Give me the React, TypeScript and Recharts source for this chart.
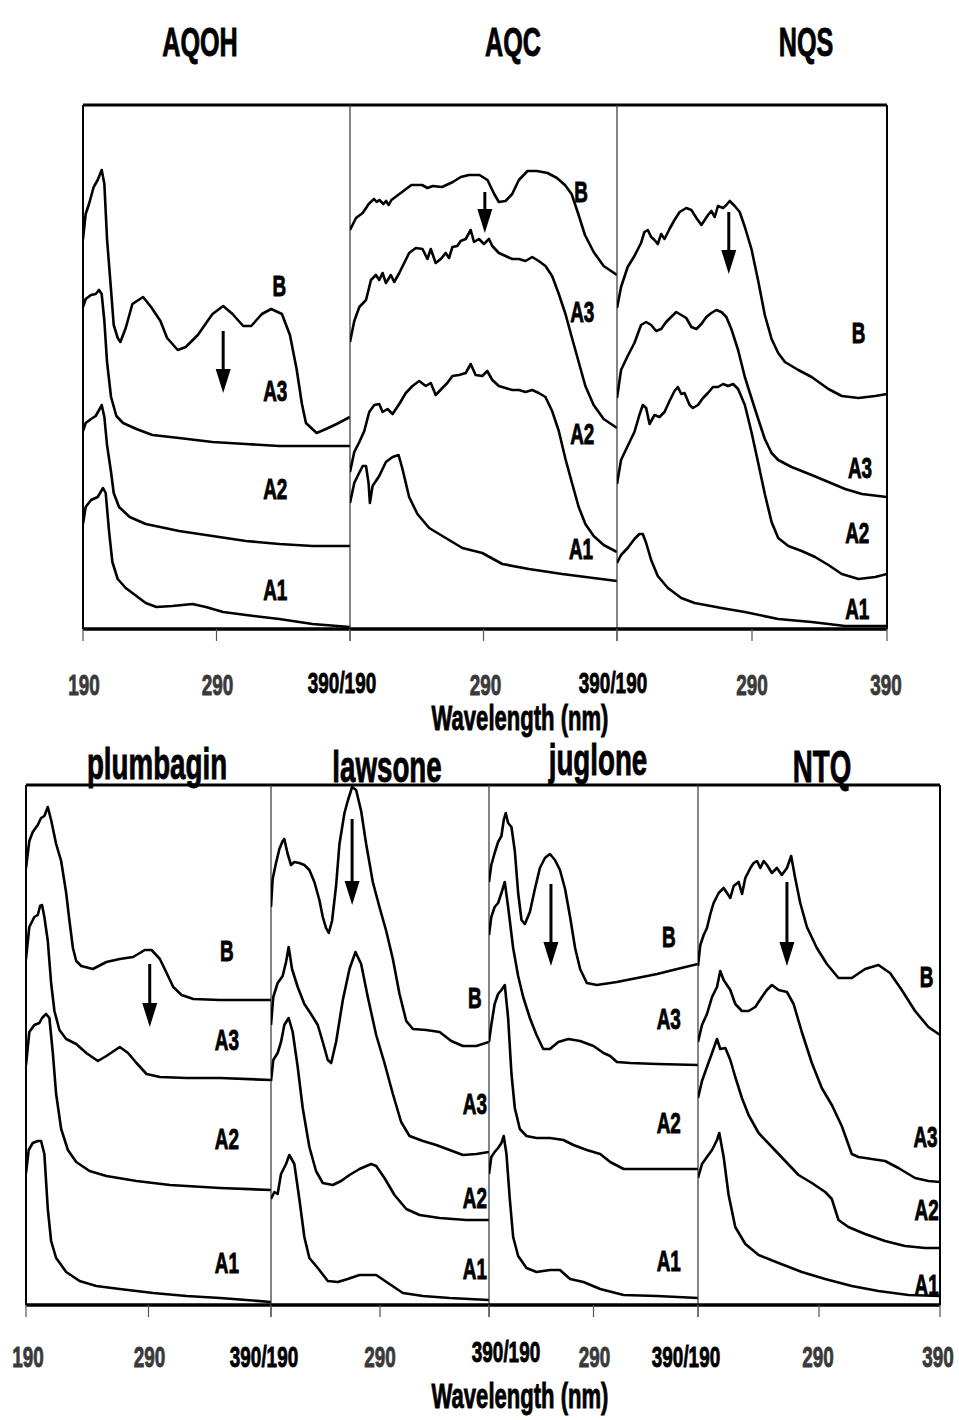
import React from 'react';
import { LineChart, Line, XAxis, YAxis, ReferenceLine, ReferenceDot } from 'recharts';

type Pt = [number, number];
type Tag = [string, number, number];
type TickText = { text: string; dx: number; dy: number; color: string };

const FONT = "'Liberation Sans', Arial, Helvetica, sans-serif";
const SQUEEZE = 0.63;

// every panel runs 190–390 nm
const WL_TICKS = [190, 290, 390];

// --- AQOH (offset absorbance, panel units) ---
const aqohB: Pt[] = [[190, 390], [192, 415], [194.5, 425], [198, 442], [201, 449], [204, 459], [206, 445], [208, 390], [211, 339], [213, 304], [216, 291], [218, 287], [222, 301], [227, 325], [235, 332], [241, 322], [248, 308], [253, 291], [261, 279], [267, 282], [276, 294], [287, 315], [295, 323], [302, 315], [310, 303], [316, 303], [324, 315], [331, 320], [339, 315], [345, 294], [350, 260], [354, 225], [357, 206], [365, 196], [372, 200], [380, 205], [390, 212]];
const aqohA3: Pt[] = [[190, 322], [192, 330], [196, 334], [199.5, 335], [202, 339], [204, 335], [206, 308], [208, 267], [211, 232], [215, 213], [220, 206], [230, 200], [242, 194], [262, 191], [287, 187], [312, 185], [337, 183], [390, 183]];
const aqohA2: Pt[] = [[190, 198], [192, 206], [196, 210], [199.5, 213], [202.5, 220], [204, 224], [206, 212], [208, 184], [211, 157], [213, 136], [217, 122], [225, 112], [237, 105], [262, 98], [287, 93], [312, 88], [337, 85], [362, 83], [390, 83]];
const aqohA1: Pt[] = [[190, 105], [192, 122], [196, 129], [201, 132], [205, 141], [207, 136], [209.5, 98], [212, 67], [216, 50], [222, 41], [230, 33], [237, 26], [245, 22], [257, 23], [272, 25], [282, 22], [295, 17], [312, 14], [337, 10], [362, 5], [390, 2]];
const aqohTags: Tag[] = [['B', 337, 344], ['A3', 334, 239], ['A2', 334, 141], ['A1', 334, 40]];
const aqohArrow = [295, 298, 236];

// --- AQC ---
const aqcB: Pt[] = [[190, 399], [194.5, 411], [199.5, 416], [204, 425], [208, 430], [210, 427], [212, 429], [215, 425], [217, 428], [219, 424], [221, 429], [224, 432], [229, 437], [236, 444], [244, 444], [248, 441], [252, 443], [259, 442], [267, 447], [273, 452], [279, 454], [287, 454], [293, 449], [298, 435], [301.5, 427], [306.5, 428], [311.5, 435], [316.5, 449], [323, 458], [330, 458], [338, 456], [345, 451], [351, 444], [356, 435], [361, 415], [366, 394], [372.5, 377], [380, 363], [390, 354]];
const aqcA3: Pt[] = [[190, 287], [193.2, 308], [197, 322], [202, 329], [205.7, 349], [209.4, 354], [211.9, 349], [214.4, 356], [216.9, 346], [220.6, 354], [223.1, 347], [226.9, 356], [230.6, 366], [234.3, 376], [239.3, 381], [244.3, 380], [248, 370], [250.5, 380], [254.2, 366], [258, 370], [261.7, 376], [264.2, 371], [266.7, 382], [270.4, 383], [272.9, 388], [276.7, 390], [280.4, 399], [282.9, 387], [286.6, 390], [290.3, 385], [294.1, 390], [296.6, 383], [301.5, 376], [306.5, 373], [311.5, 370], [316.5, 370], [321.5, 368], [326.5, 372], [331.4, 368], [336.4, 363], [341.4, 353], [346.4, 335], [351.4, 315], [356.3, 291], [361.3, 267], [366.3, 243], [372.5, 224], [380, 210], [390, 201]];
const aqcA2: Pt[] = [[190, 157], [193.2, 177], [197, 187], [200.7, 198], [204.4, 217], [208.2, 224], [211.9, 225], [214.4, 217], [218.1, 220], [221.9, 215], [226.9, 225], [231.8, 236], [236.8, 243], [241.8, 248], [246.8, 243], [250.5, 246], [254.2, 234], [259.2, 241], [262.9, 246], [266.7, 253], [271.7, 254], [276.7, 256], [280.4, 265], [284.1, 254], [289.1, 253], [292.8, 258], [296.6, 249], [301.5, 243], [306.5, 241], [311.5, 239], [316.5, 239], [321.5, 237], [326.5, 239], [331.4, 236], [336.4, 232], [341.4, 218], [346.4, 198], [351.4, 170], [356.3, 146], [361.3, 122], [366.3, 105], [372.5, 93], [380, 84], [390, 77]];
const aqcA1: Pt[] = [[190, 126], [193.2, 146], [195.7, 153], [199.5, 163], [202, 163], [203.9, 146], [204.9, 126], [206.9, 143], [211.9, 153], [216.9, 167], [221.9, 172], [226.4, 174], [229.3, 160], [234.3, 132], [240.5, 115], [249.3, 101], [261.7, 91], [274.2, 81], [289.1, 76], [304.1, 65], [324, 60], [348.9, 55], [390, 48]];
const aqcTags: Tag[] = [['B', 363, 438], ['A3', 364, 318], ['A2', 364, 196], ['A1', 363, 81]];
const aqcArrow = [291, 437, 396];

// --- NQS ---
const nqsB: Pt[] = [[190, 321], [193, 342], [197.9, 362], [202.9, 373], [207.8, 386], [210.3, 397], [212.8, 399], [215.3, 392], [217.8, 389], [220.2, 385], [222.7, 395], [225.2, 390], [228.9, 400], [232.6, 409], [236.4, 417], [241.3, 421], [245.1, 419], [248.8, 411], [252.5, 404], [255, 409], [257.4, 414], [259.9, 418], [262.4, 412], [264.8, 423], [268.6, 421], [271, 424], [273.5, 428], [277.2, 423], [280.9, 417], [284.7, 402], [289.6, 380], [294.6, 348], [299.5, 314], [304.5, 290], [309.4, 276], [314.4, 267], [324.3, 259], [334.2, 252], [346.6, 240], [356.5, 233], [368.9, 231], [381.3, 233], [390, 235]];
const nqsA3: Pt[] = [[190, 231], [193, 259], [197.9, 273], [202.9, 286], [207.8, 304], [211.6, 307], [215.3, 304], [219, 298], [222.7, 300], [226.4, 307], [230.1, 312], [233.9, 317], [237.6, 314], [241.3, 311], [245.1, 302], [248.8, 300], [252.5, 305], [256.2, 312], [259.9, 316], [263.6, 319], [267.3, 317], [271, 312], [274.7, 300], [279.7, 279], [284.7, 252], [289.6, 231], [294.6, 210], [299.5, 190], [304.5, 176], [309.4, 169], [319.3, 162], [334.2, 154], [346.6, 147], [359, 140], [371.4, 135], [390, 132]];
const nqsA2: Pt[] = [[190, 145], [193, 169], [197.9, 183], [202.9, 197], [206.6, 214], [209.1, 224], [211.6, 221], [214.1, 205], [217.8, 214], [221.5, 212], [225.2, 217], [228.9, 228], [232.6, 238], [235.1, 242], [237.6, 235], [240, 236], [243.8, 224], [246.2, 221], [250, 224], [253.7, 231], [257.4, 236], [261.1, 242], [264.8, 242], [268.6, 245], [272.3, 243], [276, 245], [279.7, 240], [284.7, 224], [289.6, 197], [294.6, 166], [299.5, 135], [304.5, 107], [309.4, 91], [316.9, 83], [326.8, 78], [336.7, 72], [346.6, 64], [356.5, 55], [368.9, 50], [381.3, 52], [390, 55]];
const nqsA1: Pt[] = [[190, 66], [193, 74], [197.9, 81], [202.9, 90], [206.6, 95], [209.1, 95], [211.6, 86], [215.3, 69], [220.2, 53], [227.7, 41], [237.6, 31], [247.5, 26], [267.3, 21], [284.7, 17], [309.4, 10], [334.2, 7], [359, 3], [390, 3]];
const nqsTags: Tag[] = [['B', 369, 297], ['A3', 370, 162], ['A2', 368, 97], ['A1', 368, 21]];
const nqsArrow = [272.8, 417, 355];

// --- plumbagin ---
const plumB: Pt[] = [[190, 437], [192.7, 464], [195.5, 473], [199.6, 480], [202.3, 487], [205, 489], [207.8, 498], [210.5, 485], [214.6, 461], [218.7, 444], [222.8, 412], [225.5, 384], [228.3, 357], [231, 344], [235.1, 339], [244.6, 336], [255.6, 343], [266.5, 346], [277.4, 348], [287, 355], [292.5, 355], [299.3, 346], [304.8, 332], [310.2, 318], [317, 310], [326.6, 306], [348.5, 305], [390, 305]];
const plumA3: Pt[] = [[190, 346], [192.7, 378], [196.8, 388], [199.6, 390], [201.5, 399], [203.1, 400], [205, 388], [207.8, 364], [210.5, 322], [213.2, 294], [217.3, 275], [222.8, 266], [231, 261], [239.2, 252], [248.7, 244], [255.6, 249], [266.5, 258], [273.3, 252], [280.2, 242], [288.4, 231], [299.3, 228], [321.1, 227], [348.5, 227], [390, 225]];
const plumA2: Pt[] = [[190, 240], [192.7, 273], [196.8, 280], [200.9, 282], [203.1, 287], [206.4, 291], [209.1, 287], [211.9, 252], [214.6, 211], [218.7, 176], [224.2, 155], [231, 143], [241.9, 134], [255.6, 129], [280.2, 124], [307.5, 120], [348.5, 117], [390, 115]];
const plumA1: Pt[] = [[190, 132], [192.2, 155], [195.5, 162], [199.6, 164], [202.3, 164], [205, 151], [207.8, 96], [210.5, 64], [214.6, 47], [222.8, 33], [233.7, 24], [247.4, 19], [266.5, 16], [293.8, 12], [321.1, 9], [348.5, 7], [390, 3]];
const plumTags: Tag[] = [['B', 354, 355], ['A3', 354, 266], ['A2', 354, 167], ['A1', 354, 43]];
const plumArrow = [291, 341, 278];

// --- lawsone ---
const lawB: Pt[] = [[190, 398], [191.5, 426], [194.6, 442], [197.7, 456], [200.7, 464], [202.2, 466], [205.3, 451], [208.4, 440], [211.4, 443], [216, 442], [220.6, 440], [225.2, 435], [229.8, 423], [234.4, 405], [237.5, 388], [240.5, 377], [243, 372], [246, 384], [249.7, 419], [252.8, 461], [257.4, 492], [260.4, 504], [264.4, 518], [268.1, 515], [272.7, 494], [277.3, 461], [283.4, 423], [289.5, 398], [295.7, 374], [301.8, 346], [307.9, 311], [314.1, 284], [320.2, 276], [332.4, 275], [344.7, 273], [355.4, 264], [366.1, 259], [378.4, 259], [390, 263]];
const lawA3: Pt[] = [[190, 280], [192.1, 308], [196.1, 322], [200.7, 329], [203.8, 343], [206.2, 358], [209.3, 336], [214.5, 318], [220.6, 301], [226.7, 291], [232.9, 280], [237.5, 263], [242.1, 245], [245.2, 242], [249.7, 263], [255.9, 305], [262, 336], [267.5, 353], [272.7, 341], [278.8, 308], [286.5, 270], [294.1, 242], [301.8, 211], [309.4, 183], [317.1, 169], [329.4, 164], [341.6, 160], [353.9, 155], [366.1, 150], [378.4, 151], [390, 153]];
const lawA2: Pt[] = [[190, 224], [192.1, 245], [196.1, 252], [199.2, 263], [202.2, 280], [206.2, 287], [209.9, 273], [214.5, 238], [219.1, 197], [225.2, 158], [231.3, 134], [237.5, 122], [246.7, 120], [254.3, 124], [262, 130], [271.2, 136], [281.9, 141], [286.5, 139], [294.1, 127], [303.3, 110], [314.1, 96], [326.3, 90], [344.7, 87], [369.2, 85], [390, 85]];
const lawA1: Pt[] = [[190, 106], [193.1, 113], [196.1, 111], [199.2, 131], [203.8, 141], [206.8, 150], [211.4, 141], [216, 106], [220.6, 68], [225.2, 47], [232.9, 37], [242.1, 24], [251.3, 23], [260.4, 26], [271.2, 30], [286.5, 30], [298.7, 21], [311, 12], [329.4, 9], [353.9, 7], [390, 5]];
const lawTags: Tag[] = [['B', 377, 308], ['A3', 377, 202], ['A2', 377, 108], ['A1', 377, 37]];
const lawArrow = [264.4, 486, 400];

// --- juglone ---
const jugB: Pt[] = [[190, 423], [192.2, 440], [195.4, 452], [198.7, 463], [201.9, 469], [204.1, 485], [206, 492], [208.3, 482], [211.5, 478], [214.7, 454], [217.9, 412], [221.1, 385], [224.3, 381], [229.1, 393], [233.9, 416], [238.7, 437], [243.5, 447], [248.3, 451], [253.1, 445], [257.9, 435], [262.8, 416], [267.6, 388], [272.4, 357], [277.2, 336], [283.6, 322], [293.2, 320], [312.4, 323], [331.7, 327], [350.9, 331], [370.1, 336], [390, 341]];
const jugA3: Pt[] = [[190, 370], [192.2, 388], [195.4, 398], [198.7, 402], [201.9, 412], [205.1, 423], [208.3, 398], [213.1, 357], [217.9, 329], [222.7, 308], [229.1, 287], [235.5, 270], [241.9, 256], [248.3, 256], [256.3, 263], [265.9, 266], [277.2, 264], [290, 259], [299.6, 252], [306, 249], [312.4, 243], [325.3, 242], [350.9, 241], [390, 240]];
const jugA2: Pt[] = [[190, 263], [192.2, 280], [195.4, 301], [198.7, 311], [201.9, 315], [205.1, 320], [208.3, 287], [211.5, 231], [214.7, 197], [219.5, 176], [225.9, 169], [235.5, 167], [248.3, 167], [261.2, 165], [270.8, 160], [283.6, 155], [296.4, 151], [306, 143], [318.8, 136], [344.5, 136], [390, 136]];
const jugA1: Pt[] = [[190, 131], [192.2, 148], [195.4, 153], [198.7, 157], [201.9, 162], [204.1, 169], [206.7, 151], [209.9, 106], [213.1, 68], [217.9, 49], [225.9, 37], [235.5, 33], [248.3, 35], [257.9, 35], [267.6, 26], [280.4, 23], [296.4, 16], [318.8, 10], [350.9, 9], [390, 7]];
const jugTags: Tag[] = [['B', 362, 369], ['A3', 362, 287], ['A2', 362, 183], ['A1', 362, 45]];
const jugArrow = [249.3, 421, 339];

// --- NTQ ---
const ntqB: Pt[] = [[190, 339], [191.9, 360], [194.7, 370], [197.4, 377], [200.2, 391], [202.9, 402], [207.1, 412], [211.2, 417], [214, 412], [216.7, 407], [219.5, 419], [223.6, 423], [226.4, 411], [229.1, 427], [233.3, 437], [236, 442], [238.8, 444], [241.5, 437], [244.3, 444], [247, 440], [251.1, 432], [255.2, 437], [259.3, 430], [263.5, 437], [267, 449], [270.3, 427], [274.5, 402], [280, 378], [288.2, 357], [296.5, 341], [306.1, 327], [317.1, 327], [328.1, 336], [339.1, 340], [348.7, 332], [358.4, 315], [369.4, 294], [380.4, 278], [390, 270]];
const ntqA3: Pt[] = [[190, 263], [193.3, 280], [197.4, 291], [201.6, 308], [205.7, 318], [208.4, 334], [211.2, 325], [216.7, 315], [220.8, 301], [226.3, 294], [231.8, 294], [237.3, 298], [242.8, 308], [246.9, 315], [251.1, 320], [256.6, 315], [263.5, 313], [269, 301], [275.8, 273], [284.1, 242], [292.3, 217], [300.6, 200], [308.8, 179], [317.1, 151], [322.6, 148], [333.6, 146], [344.6, 144], [355.6, 137], [369.4, 127], [380.4, 124], [390, 123]];
const ntqA2: Pt[] = [[190, 207], [193.3, 224], [197.4, 238], [201.6, 252], [205.7, 266], [208.4, 256], [212.6, 257], [216.7, 245], [220.8, 228], [226.3, 207], [231.8, 190], [240.1, 172], [251.1, 158], [262.1, 144], [273.1, 130], [284.1, 122], [295.1, 113], [300.6, 106], [306.1, 85], [314.3, 78], [328.1, 71], [344.6, 64], [361.1, 59], [377.6, 57], [390, 57]];
const ntqA1: Pt[] = [[190, 127], [193.3, 141], [197.4, 148], [201.6, 155], [205.7, 165], [207.6, 172], [211.2, 148], [215.3, 110], [220.8, 78], [229.1, 61], [240.1, 50], [256.6, 42], [275.8, 33], [295.1, 26], [317.1, 19], [339.1, 14], [363.9, 10], [390, 9]];
const ntqTags: Tag[] = [['B', 379, 329], ['A3', 378, 169], ['A2', 379, 96], ['A1', 379, 21]];
const ntqArrow = [263.5, 423, 339];

const TOP_TITLES = ['AQOH', 'AQC', 'NQS'];
const BOTTOM_TITLES = ['plumbagin', 'lawsone', 'juglone', 'NTQ'];
const AXIS_TITLE = 'Wavelength (nm)';

// layout of the two rows (page pixels)
const TOP_EDGES = [83, 350, 617, 887];
const BOTTOM_EDGES = [26, 271, 489, 698, 940];
const TOP_Y = [105, 629];
const BOTTOM_Y = [785, 1305];

const grey = '#3a3a3a';
const tt = (text: string, dx = 0, dy = 0, color = grey): TickText => ({ text, dx, dy, color });

interface PanelSpec {
  edges: [number, number];
  rows: [number, number];
  series: [string, Pt[]][];
  tags: Tag[];
  arrow: number[];
  ticks: Record<number, TickText>;
  labelDrop: number;
  first?: boolean;
  last?: boolean;
}

const PANELS: PanelSpec[] = [
  { edges: [TOP_EDGES[0], TOP_EDGES[1]], rows: [TOP_Y[0], TOP_Y[1]], series: [['B', aqohB], ['A3', aqohA3], ['A2', aqohA2], ['A1', aqohA1]], tags: aqohTags, arrow: aqohArrow, ticks: { 190: tt('190', 1), 290: tt('290', 1), 390: tt('390/190', -8, -2, '#000') }, labelDrop: 66, first: true },
  { edges: [TOP_EDGES[1], TOP_EDGES[2]], rows: [TOP_Y[0], TOP_Y[1]], series: [['B', aqcB], ['A3', aqcA3], ['A2', aqcA2], ['A1', aqcA1]], tags: aqcTags, arrow: aqcArrow, ticks: { 290: tt('290', 2), 390: tt('390/190', -4, -2, '#000') }, labelDrop: 66 },
  { edges: [TOP_EDGES[2], TOP_EDGES[3]], rows: [TOP_Y[0], TOP_Y[1]], series: [['B', nqsB], ['A3', nqsA3], ['A2', nqsA2], ['A1', nqsA1]], tags: nqsTags, arrow: nqsArrow, ticks: { 290: tt('290'), 390: tt('390', -1) }, labelDrop: 66, last: true },
  { edges: [BOTTOM_EDGES[0], BOTTOM_EDGES[1]], rows: [BOTTOM_Y[0], BOTTOM_Y[1]], series: [['B', plumB], ['A3', plumA3], ['A2', plumA2], ['A1', plumA1]], tags: plumTags, arrow: plumArrow, ticks: { 190: tt('190', 2), 290: tt('290', 1), 390: tt('390/190', -7, 0, '#000') }, labelDrop: 62, first: true },
  { edges: [BOTTOM_EDGES[1], BOTTOM_EDGES[2]], rows: [BOTTOM_Y[0], BOTTOM_Y[1]], series: [['B', lawB], ['A3', lawA3], ['A2', lawA2], ['A1', lawA1]], tags: lawTags, arrow: lawArrow, ticks: { 290: tt('290'), 390: tt('390/190', 17, -5, '#000') }, labelDrop: 62 },
  { edges: [BOTTOM_EDGES[2], BOTTOM_EDGES[3]], rows: [BOTTOM_Y[0], BOTTOM_Y[1]], series: [['B', jugB], ['A3', jugA3], ['A2', jugA2], ['A1', jugA1]], tags: jugTags, arrow: jugArrow, ticks: { 290: tt('290', 1), 390: tt('390/190', -12, 0, '#000') }, labelDrop: 62 },
  { edges: [BOTTOM_EDGES[3], BOTTOM_EDGES[4]], rows: [BOTTOM_Y[0], BOTTOM_Y[1]], series: [['B', ntqB], ['A3', ntqA3], ['A2', ntqA2], ['A1', ntqA1]], tags: ntqTags, arrow: ntqArrow, ticks: { 290: tt('290', -1), 390: tt('390', -2) }, labelDrop: 62, last: true },
];

const PAD_X = 60;
const PAD_T = 6;
const AXIS_H = 90;

const toRows = (pts: Pt[]) => pts.map(([wl, a]) => ({ wl, a }));

// vertical arrow: shaft plus filled head pointing down at (x2, y2)
const ArrowShape = (p: any) => {
  const { x1, y1, x2, y2 } = p;
  const head = 24;
  const half = 7.5;
  return (
    <g>
      <line x1={x1} y1={y1} x2={x2} y2={y2 - head + 2} stroke="#000" strokeWidth={3} />
      <polygon points={`${x2 - half},${y2 - head} ${x2 + half},${y2 - head} ${x2},${y2}`} fill="#000" />
    </g>
  );
};

// bold, horizontally squeezed lettering used for all labels
const condensed = (x: number, y: number, text: string, size: number, color = '#000') => (
  <text transform={`translate(${x},${y}) scale(${SQUEEZE},1)`} textAnchor="middle" fontFamily={FONT} fontWeight={700} fontSize={size}
    fill={color} stroke={color} strokeWidth={0.9}>
    {text}
  </text>
);

function Panel({ p }: { p: PanelSpec }) {
  const w = p.edges[1] - p.edges[0];
  const h = p.rows[1] - p.rows[0];
  const tick = (props: any) => {
    const t = p.ticks[props.payload.value];
    if (!t) return <g />;
    return condensed(props.x + t.dx, PAD_T + h + p.labelDrop + t.dy, t.text, 30, t.color);
  };
  return (
    <div style={{ position: 'absolute', left: p.edges[0] - PAD_X, top: p.rows[0] - PAD_T }}>
      <LineChart width={w + 2 * PAD_X} height={PAD_T + h + AXIS_H} margin={{ top: PAD_T, right: PAD_X, bottom: 0, left: PAD_X }}>
        <XAxis type="number" dataKey="wl" domain={[190, 390]} ticks={WL_TICKS} interval={0} allowDataOverflow height={AXIS_H}
          axisLine={{ stroke: '#000', strokeWidth: 3.5 }} tickLine={{ stroke: '#555', strokeWidth: 1.2 }} tickSize={12} tick={tick} />
        <YAxis type="number" domain={[0, h]} hide allowDataOverflow />
        <ReferenceLine y={h} stroke="#000" strokeWidth={3} />
        <ReferenceLine x={190} stroke={p.first ? '#000' : '#333'} strokeWidth={p.first ? 2 : 1.2} />
        {p.last && <ReferenceLine x={390} stroke="#000" strokeWidth={2} />}
        {p.series.map(([name, pts]) => (
          <Line key={name} name={name} data={toRows(pts)} dataKey="a" type="linear" dot={false} activeDot={false}
            stroke="#000" strokeWidth={2.6} strokeLinejoin="round" isAnimationActive={false} />
        ))}
        <ReferenceLine segment={[{ x: p.arrow[0], y: p.arrow[1] }, { x: p.arrow[0], y: p.arrow[2] }]} shape={ArrowShape} />
        {p.tags.map(([label, wl, a]) => (
          <ReferenceDot key={label} x={wl} y={a} r={1} ifOverflow="visible"
            shape={(d: any) => condensed(d.cx, d.cy + 11, label, 30)} />
        ))}
      </LineChart>
    </div>
  );
}

const Caption = ({ text, cx, baseline, size }: { text: string; cx: number; baseline: number; size: number }) => (
  <div style={{ position: 'absolute', left: cx - 200, top: baseline - 0.8465 * size, width: 400, textAlign: 'center', fontFamily: FONT, fontWeight: 700, fontSize: size, lineHeight: 1, transform: `scaleX(${SQUEEZE})`, color: '#000', whiteSpace: 'nowrap', WebkitTextStroke: '0.9px #000' }}>
    {text}
  </div>
);

const TOP_TITLE_X = [200, 513, 806];
const BOTTOM_TITLE_X = [157, 387, 598, 822];
const BOTTOM_TITLE_BASE = [779, 782, 775, 782];

export default function App() {
  return (
    <div style={{ position: 'absolute', left: 0, top: 0, width: 959, height: 1420, background: '#fff', overflow: 'hidden' }}>
      {TOP_TITLES.map((t, i) => <Caption key={t} text={t} cx={TOP_TITLE_X[i]} baseline={56} size={40} />)}
      {BOTTOM_TITLES.map((t, i) => <Caption key={t} text={t} cx={BOTTOM_TITLE_X[i]} baseline={BOTTOM_TITLE_BASE[i]} size={44} />)}
      {PANELS.map((p, i) => <Panel key={i} p={p} />)}
      <Caption text={AXIS_TITLE} cx={520} baseline={730} size={35} />
      <Caption text={AXIS_TITLE} cx={520} baseline={1408} size={35} />
    </div>
  );
}
